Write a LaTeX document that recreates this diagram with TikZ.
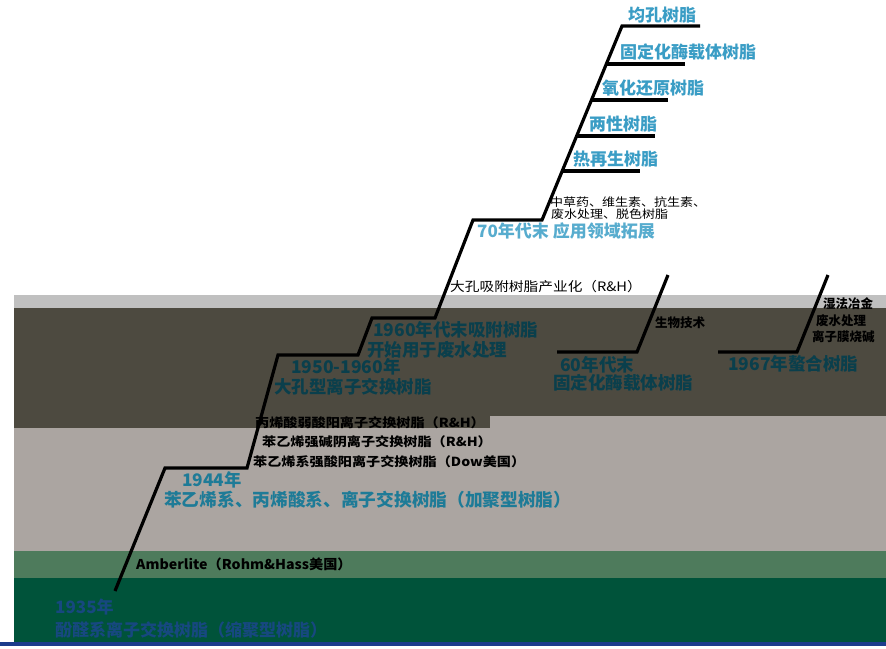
\documentclass[tikz,border=0pt]{standalone}
\usepackage{fontspec}
\setmainfont{Noto Sans CJK SC}
\definecolor{bandlight}{HTML}{C0C0C0}
\definecolor{banddark}{HTML}{4D4A40}
\definecolor{bandgray}{HTML}{ABA5A1}
\definecolor{bandmid}{HTML}{4E7B5C}
\definecolor{banddeep}{HTML}{00533A}
\definecolor{bluebar}{HTML}{1C3C8C}
\definecolor{tealtop}{HTML}{3A9DC5}
\definecolor{tealdark}{HTML}{0A3F4C}
\definecolor{tealmid}{HTML}{1E7B97}
\definecolor{hiddenblue}{HTML}{174880}
\tikzset{
  lab/.style={anchor=west, inner sep=0pt},
  toplab/.style={lab, text=tealtop, font=\bfseries\fontsize{17}{17}\selectfont},
  darklab/.style={lab, text=tealdark, font=\bfseries\fontsize{17.5}{17.5}\selectfont},
  midlab/.style={lab, text=tealmid, font=\bfseries\fontsize{17.3}{17.3}\selectfont},
  smalllab/.style={lab, text=black, font=\fontsize{11.5}{11.5}\selectfont, xscale=1.13},
  blacklab/.style={lab, text=black, font=\bfseries\fontsize{12.5}{12.5}\selectfont, xscale=1.13},
  notelab/.style={lab, text=black, font=\bfseries\fontsize{12.5}{12.5}\selectfont},
  bluelab/.style={lab, text=hiddenblue, font=\bfseries\fontsize{17}{17}\selectfont},
  stair/.style={line width=3.2pt, line join=miter, black}
}
\begin{document}
\begin{tikzpicture}[x=1pt, y=-1pt]
\useasboundingbox (0,0) rectangle (886,648);
\fill[white] (0,0) rectangle (886,648);
% bands
\fill[bandlight] (14,295) rectangle (886,308);
\fill[bandgray] (14,416) rectangle (886,551);
\fill[banddark] (14,308) rectangle (886,416);
\fill[banddark] (14,416) rectangle (490,428);
\fill[bandmid] (14,551) rectangle (886,578);
\fill[banddeep] (14,578) rectangle (886,642);
\fill[bluebar] (0,642) rectangle (886,646);

% staircase
\draw[stair] (115,591) -- (165,468) -- (247,468) -- (278,355) -- (358,355)
  -- (372,318) -- (435,318) -- (473,220) -- (542,220) -- (622,26) -- (700,26);
\draw[stair] (606.3,64) -- (685,64);
\draw[stair] (591.5,100) -- (668,100);
\draw[stair] (576.6,136) -- (655,136);
\draw[stair] (562.2,171) -- (640,171);
\draw[stair] (668,275) -- (637,352) -- (557,352);
\draw[stair] (828,275) -- (797,352) -- (718,352);

% top labels
\node[toplab] (t1) at (628,15) {均孔树脂};
\node[toplab] (t2) at (620,52) {固定化酶载体树脂};
\node[toplab] (t3) at (602,88) {氧化还原树脂};
\node[toplab] (t4) at (589,124) {两性树脂};
\node[toplab] (t5) at (573,159) {热再生树脂};
\node[smalllab] (s1) at (550,202) {中草药、维生素、抗生素、};
\node[smalllab] (s2) at (551,214) {废水处理、脱色树脂};
\node[toplab, text=tealtop!85!white] (t6) at (477,231) {70年代末 应用领域拓展};

% middle
\node[blacklab, font=\fontsize{13}{13}\selectfont] (m1) at (450,287) {大孔吸附树脂产业化（R\&H）};
\node[darklab] (d1) at (373,330) {1960年代末吸附树脂};
\node[darklab] (d2) at (367,350) {开始用于废水处理};
\node[darklab] (d3) at (291,367) {1950-1960年};
\node[darklab] (d4) at (274,387) {大孔型离子交换树脂};
\node[darklab] (d5) at (560,365) {60年代末};
\node[darklab] (d6) at (553,383) {固定化酶载体树脂};
\node[darklab] (d7) at (728,364) {1967年螯合树脂};
\node[notelab] (n1) at (655,323) {生物技术};
\node[notelab] (n2) at (823,304) {湿法冶金};
\node[notelab] (n3) at (816,321) {废水处理};
\node[notelab] (n4) at (812,337) {离子膜烧碱};

% lower
\node[blacklab] (b1) at (255,423) {丙烯酸弱酸阳离子交换树脂（R\&H）};
\node[blacklab] (b2) at (262,442) {苯乙烯强碱阴离子交换树脂（R\&H）};
\node[blacklab] (b3) at (253,462) {苯乙烯系强酸阳离子交换树脂（Dow美国）};
\node[midlab] (c1) at (182,480) {1944年};
\node[midlab, font=\bfseries\fontsize{17.7}{17.7}\selectfont] (c2) at (164,500) {苯乙烯系、丙烯酸系、离子交换树脂（加聚型树脂）};
\node[blacklab, font=\bfseries\fontsize{13.5}{13.5}\selectfont, xscale=0.93] (a1) at (136,564) {Amberlite（Rohm\&Hass美国）};
\node[bluelab] (e1) at (55,607) {1935年};
\node[bluelab] (e2) at (55,630) {酚醛系离子交换树脂（缩聚型树脂）};
\end{tikzpicture}
\end{document}
